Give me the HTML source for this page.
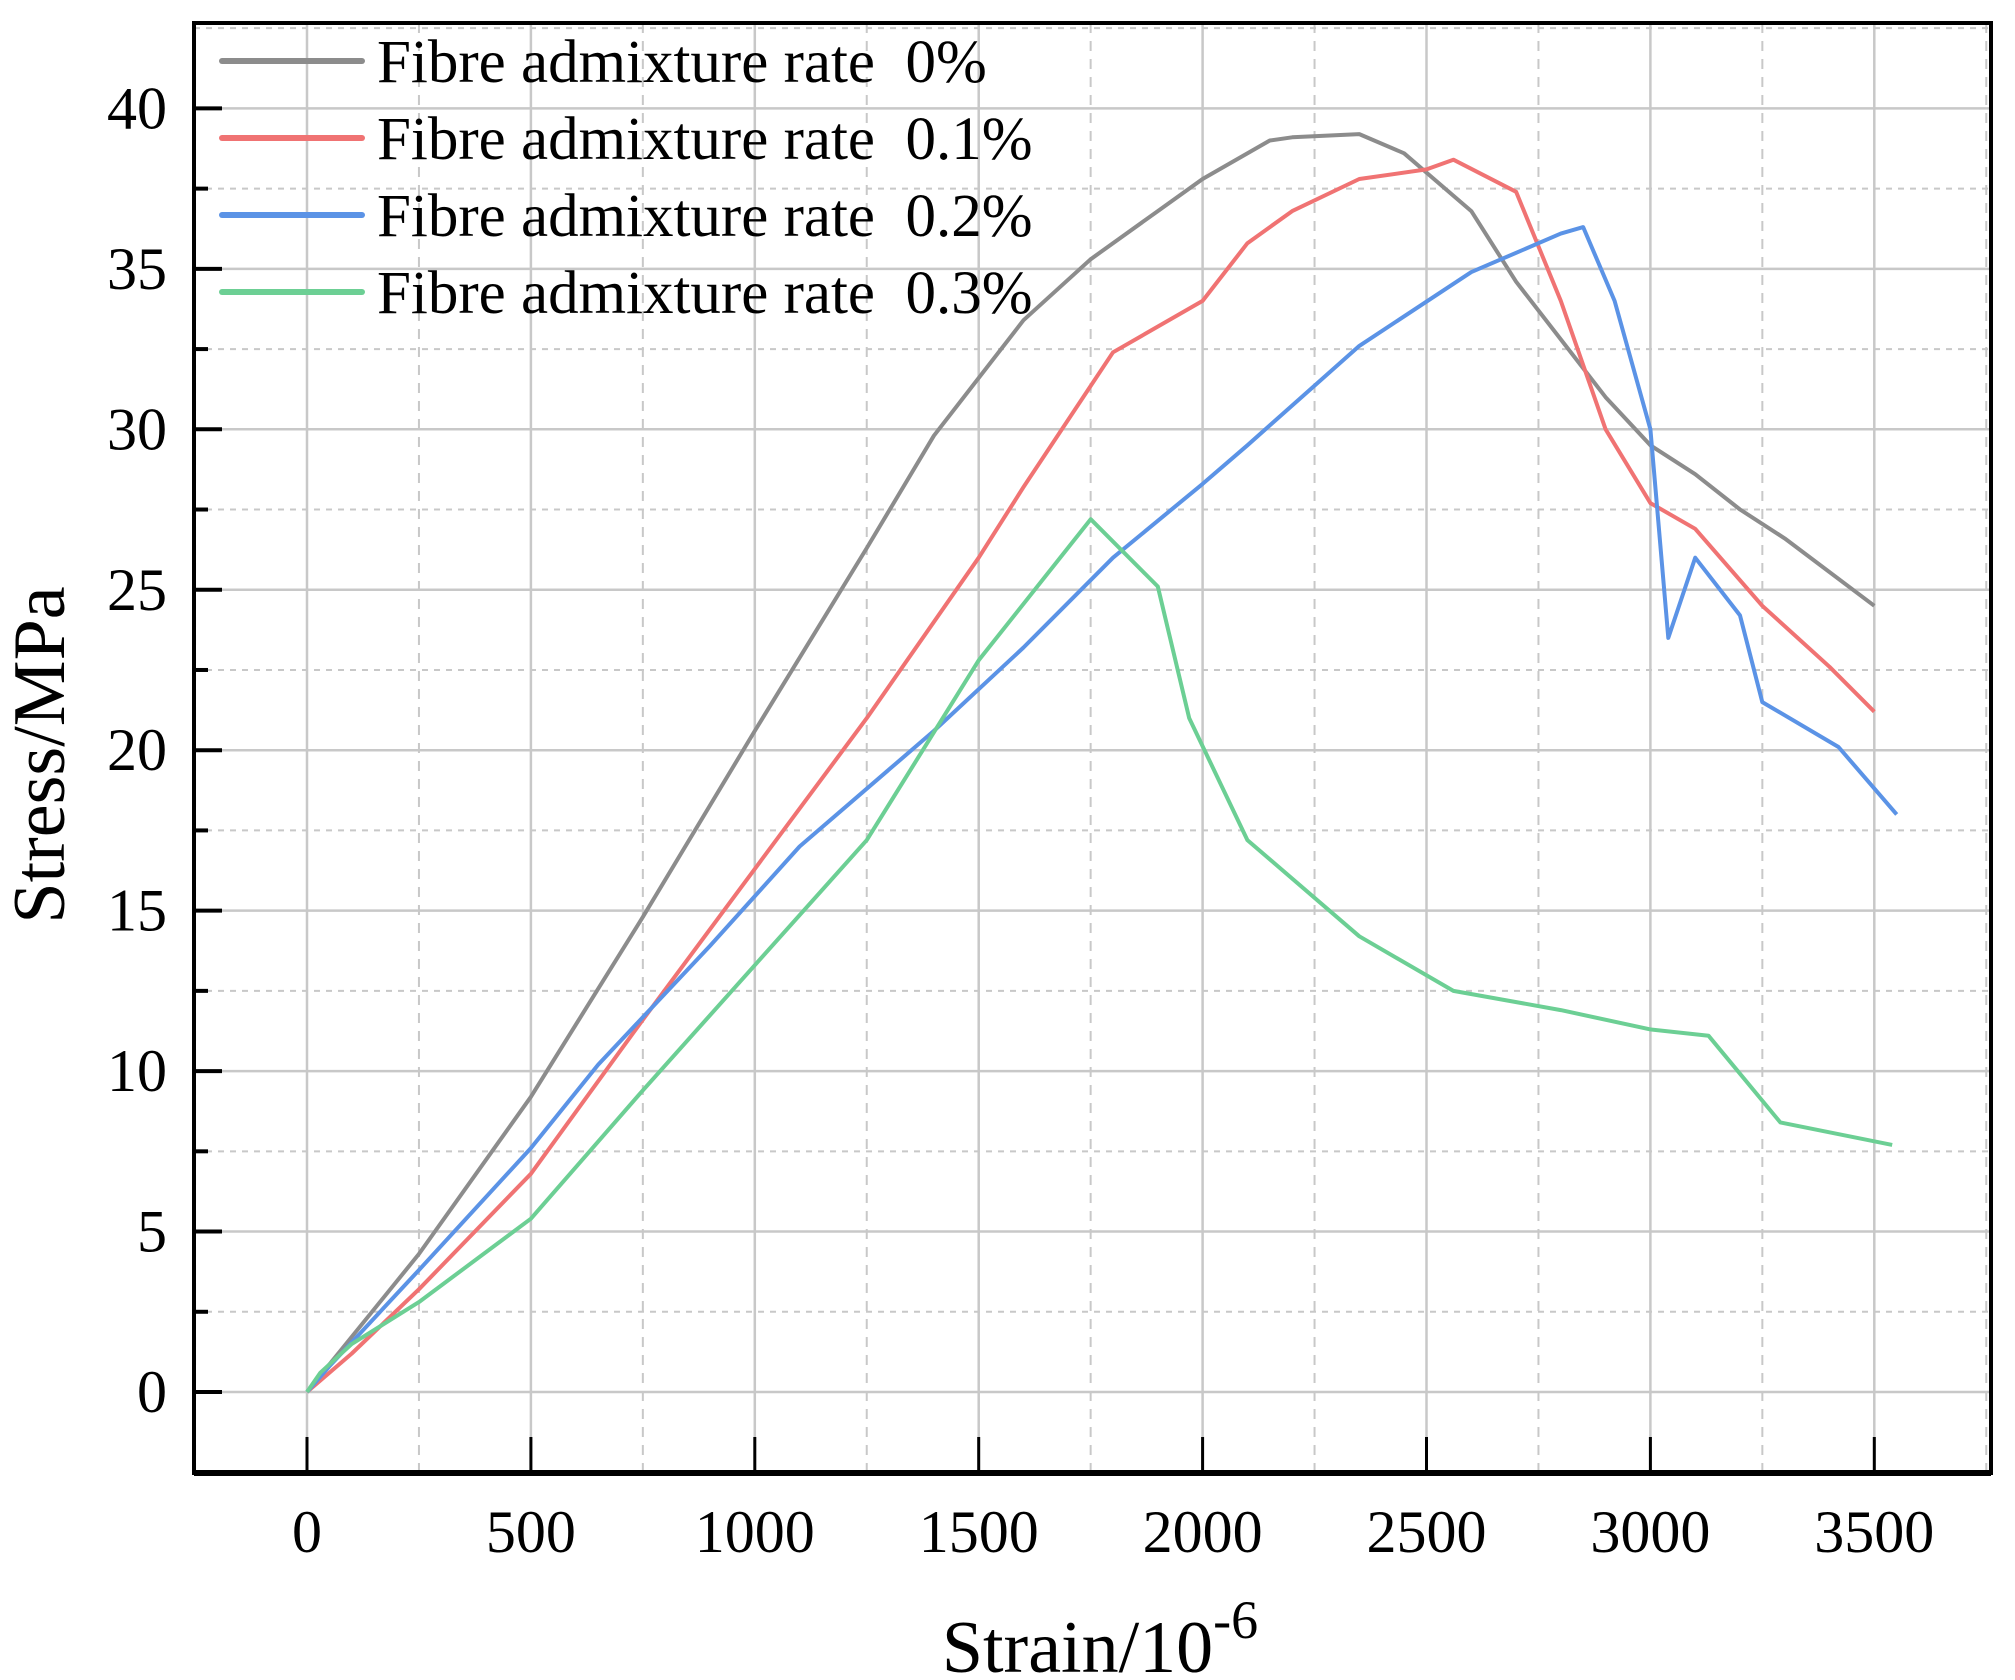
<!DOCTYPE html>
<html><head><meta charset="utf-8"><style>
html,body{margin:0;padding:0;background:#fff;}
svg{display:block;font-family:"Liberation Serif",serif;}
</style></head><body>
<svg id="s" width="2015" height="1680" xmlns="http://www.w3.org/2000/svg"></svg>
<script>
const s=document.getElementById('s');
const X=v=>307+v*0.4478, Y=v=>1392-v*32.09;
const L=194,R=1991,T=23,B=1473;
let h='';
for(let v=-250;v<=3750;v+=250){const x=X(v);if(x<=L||x>=R)continue;
 const maj=v%500===0; h+=`<line x1="${x}" y1="${T}" x2="${x}" y2="${B}" stroke="#c8c8c8" stroke-width="${maj?2.5:2}" ${maj?'':'stroke-dasharray="10,8"'}/>`;}
for(let v=-2.5;v<=42.5;v+=2.5){const y=Y(v);if(y<=T||y>=B)continue;
 const maj=v%5===0; h+=`<line x1="${L}" y1="${y}" x2="${R}" y2="${y}" stroke="#c8c8c8" stroke-width="${maj?2.5:2}" ${maj?'':'stroke-dasharray="6,6"'}/>`;}
for(let v=0;v<=3500;v+=500){const x=X(v);h+=`<line x1="${x}" y1="${B}" x2="${x}" y2="${B-36}" stroke="#000" stroke-width="3"/>`;
 h+=`<text x="${x}" y="1552" font-size="60" text-anchor="middle">${v}</text>`;}
for(let v=0;v<=40;v+=2.5){const y=Y(v);const maj=v%5===0;h+=`<line x1="${L}" y1="${y}" x2="${L+(maj?28:14)}" y2="${y}" stroke="#000" stroke-width="4"/>`;
 if(maj)h+=`<text x="167" y="${y+20}" font-size="60" text-anchor="end">${v}</text>`;}
const D={
'#8c8c8c':[[0,0],[250,4.3],[500,9.2],[750,14.8],[1000,20.6],[1250,26.3],[1400,29.8],[1600,33.4],[1750,35.3],[1900,36.8],[2000,37.8],[2150,39.0],[2200,39.1],[2350,39.2],[2450,38.6],[2500,38.0],[2600,36.8],[2700,34.6],[2800,32.8],[2900,31.0],[3000,29.5],[3100,28.6],[3200,27.5],[3300,26.6],[3500,24.5]],
'#f07373':[[0,0],[100,1.2],[250,3.2],[500,6.8],[750,11.6],[1000,16.3],[1250,21.0],[1500,26.0],[1600,28.2],[1800,32.4],[2000,34.0],[2100,35.8],[2200,36.8],[2350,37.8],[2500,38.1],[2560,38.4],[2700,37.4],[2800,34.0],[2900,30.0],[3000,27.7],[3100,26.9],[3250,24.5],[3400,22.6],[3500,21.2]],
'#5b93e6':[[0,0],[50,0.8],[250,3.8],[500,7.6],[650,10.2],[900,13.9],[1100,17.0],[1400,20.6],[1600,23.2],[1800,26.0],[2000,28.3],[2100,29.5],[2350,32.6],[2600,34.9],[2800,36.1],[2850,36.3],[2920,34.0],[3000,30.0],[3040,23.5],[3100,26.0],[3200,24.2],[3250,21.5],[3420,20.1],[3550,18.0]],
'#6ccf94':[[0,0],[30,0.6],[100,1.5],[250,2.8],[500,5.4],[750,9.4],[1000,13.3],[1250,17.2],[1500,22.8],[1750,27.2],[1900,25.1],[1970,21.0],[2100,17.2],[2350,14.2],[2560,12.5],[2800,11.9],[3000,11.3],[3130,11.1],[3290,8.4],[3540,7.7]]};
for(const c in D){h+=`<polyline fill="none" stroke="${c}" stroke-width="4" stroke-linejoin="round" points="${D[c].map(p=>X(p[0]).toFixed(1)+','+Y(p[1]).toFixed(1)).join(' ')}"/>`;}
h+=`<rect x="${L}" y="${T}" width="${R-L}" height="${B-T}" fill="none" stroke="#000" stroke-width="4"/>`;
h+=`<line x1="${L}" y1="${B}" x2="${R}" y2="${B}" stroke="#000" stroke-width="6"/>`;
const lg=[['#8c8c8c','0%'],['#f07373','0.1%'],['#5b93e6','0.2%'],['#6ccf94','0.3%']];
lg.forEach((l,i)=>{const y=61+i*77;h+=`<line x1="222" y1="${y}" x2="362" y2="${y}" stroke="${l[0]}" stroke-width="6" stroke-linecap="round"/>`;
 h+=`<text x="377" y="${y+21}" font-size="61" xml:space="preserve">Fibre admixture rate  ${l[1]}</text>`;});
h+=`<text x="1100" y="1672" font-size="74" text-anchor="middle">Strain/10<tspan dy="-34" font-size="54">-6</tspan></text>`;
h+=`<text transform="translate(64,755) rotate(-90)" font-size="74" text-anchor="middle">Stress/MPa</text>`;
s.innerHTML=h;
</script>
</body></html>
